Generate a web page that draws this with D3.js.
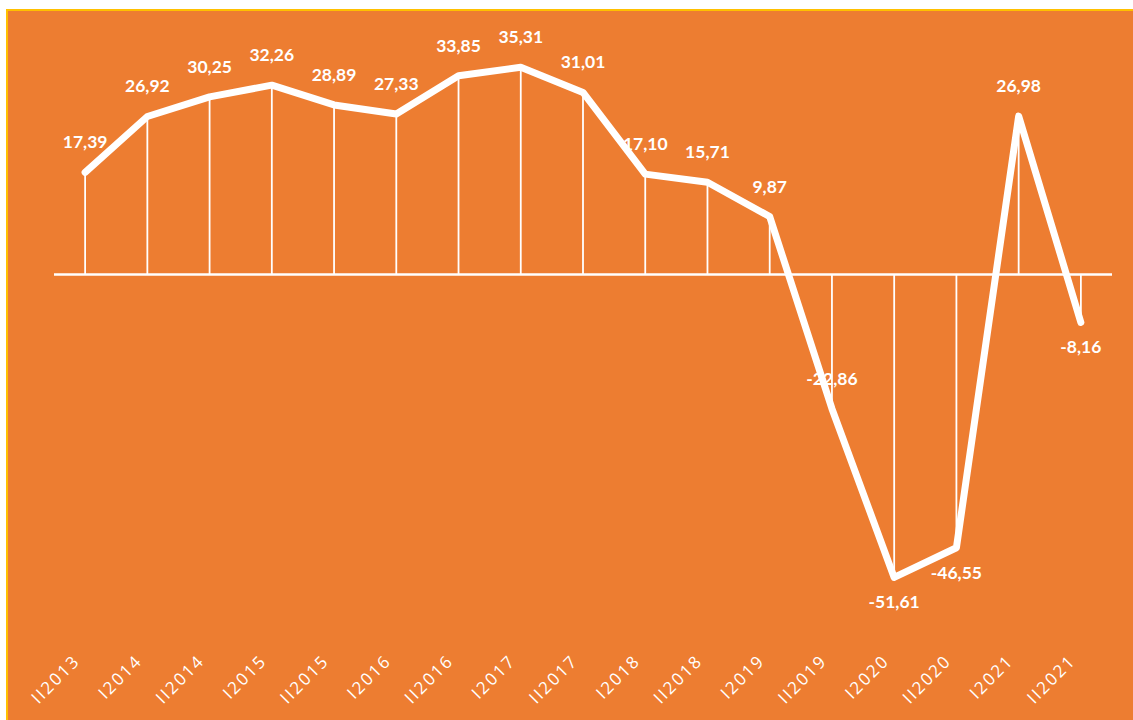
<!DOCTYPE html>
<html>
<head>
<meta charset="utf-8">
<script src="https://cdn.jsdelivr.net/npm/d3@7"></script>
<style>
  body { margin: 0; background: #fff; }
  svg { display: block; }
</style>
</head>
<body>
<svg width="1133" height="720"></svg>
<script>
  const categories = ['II2013', 'I2014', 'II2014', 'I2015', 'II2015', 'I2016', 'II2016', 'I2017', 'II2017',
    'I2018', 'II2018', 'I2019', 'II2019', 'I2020', 'II2020', 'I2021', 'II2021'];
  const values = [17.39, 26.92, 30.25, 32.26, 28.89, 27.33, 33.85, 35.31, 31.01,
    17.10, 15.71, 9.87, -22.86, -51.61, -46.55, 26.98, -8.16];
  const labelsBelow = ['I2020', 'II2020', 'II2021'];

  const svg = d3.select('svg');
  const orange = '#ED7D31';

  // background panel with thin yellow edge
  svg.append('rect')
    .attr('x', 7).attr('y', 10)
    .attr('width', 1133).attr('height', 720)
    .attr('fill', orange)
    .attr('stroke', '#FFC000')
    .attr('stroke-width', 2);

  const data = categories.map((c, i) => ({cat: c, value: values[i]}));

  const x = d3.scaleBand().domain(categories).range([54, 1112]).padding(0);
  const cx = d => x(d) + x.bandwidth() / 2;
  const y = d3.scaleLinear().domain([-60, 40]).range([626.7, 39.7]);

  const fmt = d3.formatLocale({decimal: ',', thousands: '.', grouping: [3], currency: ['', ''], minus: '-'}).format('.2f');

  // zero line
  svg.append('line')
    .attr('x1', 54).attr('x2', 1112)
    .attr('y1', y(0)).attr('y2', y(0))
    .attr('stroke', '#fff')
    .attr('stroke-width', 2.5);

  // drop lines
  svg.append('g').selectAll('line').data(data)
    .enter().append('line')
      .attr('x1', d => cx(d.cat)).attr('x2', d => cx(d.cat))
      .attr('y1', y(0)).attr('y2', d => y(d.value))
      .attr('stroke', '#fff')
      .attr('stroke-width', 1.8);

  const line = d3.line()
    .x(d => cx(d.cat))
    .y(d => y(d.value));

  svg.append('path')
    .datum(data)
    .attr('d', line)
    .attr('fill', 'none')
    .attr('stroke', '#fff')
    .attr('stroke-width', 7)
    .attr('stroke-linecap', 'round')
    .attr('stroke-linejoin', 'round');

  // value labels
  svg.append('g').selectAll('text').data(data)
    .enter().append('text')
      .attr('x', d => cx(d.cat))
      .attr('y', d => labelsBelow.includes(d.cat) ? y(d.value) + 31 : y(d.value) - 24)
      .attr('text-anchor', 'middle')
      .attr('fill', '#fff')
      .attr('font-family', 'Lato, sans-serif')
      .attr('font-weight', 'bold')
      .attr('font-size', 17.5)
      .text(d => fmt(d.value));

  // category axis labels, rotated
  const xAxis = d3.axisBottom(x).tickSize(0).tickPadding(0);
  const gx = svg.append('g')
    .attr('transform', 'translate(0,660)')
    .call(xAxis);
  gx.select('.domain').remove();
  gx.selectAll('text')
    .attr('fill', '#fff')
    .attr('font-family', '"Open Sans", sans-serif')
    .attr('font-size', 17)
    .attr('letter-spacing', 2)
    .attr('text-anchor', 'end')
    .attr('dy', 0)
    .attr('transform', 'translate(-4,2) rotate(-45)');
</script>
</body>
</html>
